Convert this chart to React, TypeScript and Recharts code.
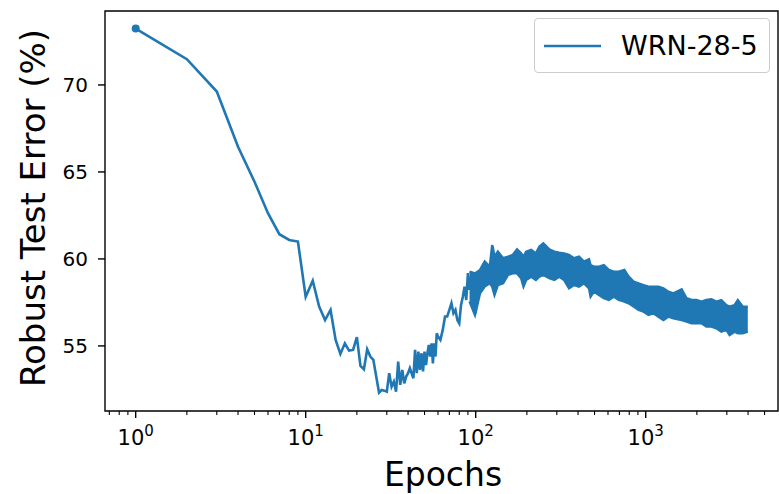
import React from 'react'
import { ComposedChart, Line, Area, XAxis, YAxis, ReferenceArea, Legend } from 'recharts'

const BLUE = '#1f77b4'
const FONT = '"DejaVu Sans", sans-serif'

// early epochs, one value per epoch
const epochs = [
  1, 2, 3, 4, 5, 6, 7, 8, 9, 10, 11, 12, 13, 14, 15, 16, 17, 18, 19, 20,
  21, 22, 23, 24, 25, 26, 27, 28, 29, 30, 31, 32, 33, 34, 35, 36, 37, 38, 39, 40,
  41, 42, 43, 44, 45, 46, 47, 48, 49, 50, 51, 52, 53, 54, 55, 56, 57, 58, 59, 60,
  62, 64, 66, 68, 70, 72, 74, 76, 78, 80, 82, 84, 86, 88, 90, 92, 94, 96, 98, 100,
  103, 106, 110, 113, 116, 120, 123, 126, 130,
]
const robustErr = [
  73.24, 71.48, 69.62, 66.45, 64.44, 62.63, 61.42, 61.09, 61.0, 57.83, 58.75, 57.26, 56.49, 57.07, 55.34, 54.54, 55.15, 54.73, 54.77, 55.5,
  53.85, 53.66, 54.81, 54.39, 54.2, 53.24, 52.32, 52.47, 52.43, 52.37, 53.43, 52.66, 52.95, 52.37, 54.1, 52.76, 53.62, 52.85, 53.24, 53.43,
  53.72, 53.43, 53.14, 54.77, 53.43, 54.67, 53.62, 54.58, 53.53, 54.67, 53.9, 54.58, 55.06, 54.39, 55.15, 54.0, 55.15, 54.39, 55.73, 55.54,
  55.35, 55.92, 56.69, 56.69, 57.07, 57.45, 56.88, 57.07, 56.49, 56.3, 57.36, 57.83, 58.41, 57.64, 59.18, 58.22, 58.99, 57.83, 59.18, 56.88,
  59.18, 58.6, 59.56, 58.6, 59.75, 58.79, 59.37, 60.71, 58.22,
]

// later epochs: the noisy curve fills a band, kept as its upper and lower edge
const bandEpochs = [
  92, 99, 106, 113, 121, 125, 129, 135, 145, 155, 165, 175, 185, 191, 198, 212, 226, 237, 250, 271,
  290, 310, 331, 354, 379, 405, 434, 464, 474, 496, 531, 567, 607, 649, 694, 749, 794, 849, 908, 971,
  1039, 1111, 1188, 1271, 1359, 1454, 1627, 1740, 1860, 1989, 2128, 2276, 2434, 2603, 2784, 2978, 3114, 3331, 3483, 3725,
  3985,
]
const bandHigh = [
  59.27, 59.17, 59.37, 59.85, 59.56, 60.8, 60.13, 60.42, 60.04, 60.13, 60.23, 60.55, 60.32, 60.13, 60.42, 60.52, 60.32, 60.71, 60.9, 60.55,
  60.42, 60.36, 60.32, 60.23, 60.04, 60.13, 59.85, 59.98, 59.65, 59.56, 59.56, 59.65, 59.37, 59.27, 59.27, 59.37, 58.98, 58.7, 58.6, 58.5,
  58.41, 58.41, 58.41, 58.31, 58.12, 58.02, 58.25, 57.74, 57.64, 57.64, 57.55, 57.64, 57.68, 57.55, 57.64, 57.35, 57.26, 57.35, 57.64, 57.26,
  57.26,
]
const bandLow = [
  57.55, 56.78, 58.02, 58.41, 58.6, 58.41, 57.93, 58.5, 58.6, 59.08, 59.17, 59.17, 58.89, 58.41, 58.79, 58.98, 58.79, 58.98, 59.08, 58.89,
  58.79, 58.98, 58.79, 58.31, 58.5, 58.41, 58.6, 58.31, 57.83, 58.12, 57.93, 57.74, 57.64, 57.83, 57.64, 57.55, 57.45, 57.26, 57.07, 56.97,
  56.78, 56.88, 56.68, 56.49, 56.68, 56.59, 56.49, 56.4, 56.3, 56.3, 56.3, 56.11, 56.11, 56.01, 55.82, 55.92, 55.63, 55.82, 55.73, 55.73,
  55.82,
]

const xMajor = [1, 10, 100, 1000]
const xMinor = [0.7, 0.8, 0.9, 2, 3, 4, 5, 6, 7, 8, 9, 20, 30, 40, 50, 60, 70, 80, 90,
  200, 300, 400, 500, 600, 700, 800, 900, 2000, 3000, 4000, 5000]
const yTicks = [55, 60, 65, 70]
const xDomain = [0.66, 6000]
const yDomain = [51.26, 74.25]

const lineData = epochs.map((e, i) => ({ epoch: e, err: robustErr[i] }))
const bandData = bandEpochs.map((e, i) => ({ epoch: e, range: [bandLow[i], bandHigh[i]] }))

const XTick = ({ x, y, payload }: any) => {
  const v = payload.value
  if (!xMajor.includes(v)) {
    return <line x1={x} x2={x} y1={y} y2={y + 4} stroke="#000" strokeWidth={1.1} />
  }
  const exp = Math.round(Math.log10(v))
  return (
    <g>
      <line x1={x} x2={x} y1={y} y2={y + 7} stroke="#000" strokeWidth={1.4} />
      <text x={x} y={y + 34} textAnchor="middle" fontFamily={FONT} fontSize={21} fill="#000">
        10<tspan dy={-9} fontSize={15}>{exp}</tspan>
      </text>
    </g>
  )
}

const YTick = ({ x, y, payload }: any) => (
  <g>
    <line x1={x - 7} x2={x} y1={y} y2={y} stroke="#000" strokeWidth={1.4} />
    <text x={x - 17} y={y} dy="0.36em" textAnchor="end" fontFamily={FONT} fontSize={20} fill="#000">
      {payload.value}
    </text>
  </g>
)

const renderLegend = () => (
  <div style={{
    position: 'absolute', left: 534, top: 18, width: 236, height: 55, boxSizing: 'border-box',
    border: '1.3px solid #cccccc', borderRadius: 4, background: 'rgba(255,255,255,0.8)',
  }}>
    <svg width={236} height={55} style={{ position: 'absolute', left: -1, top: -1 }}>
      <line x1={10} x2={67} y1={28} y2={28} stroke={BLUE} strokeWidth={2.6} />
      <text x={87} y={37} fontFamily={FONT} fontSize={27} fill="#000">WRN-28-5</text>
    </svg>
  </div>
)

export default function App() {
  return (
    <div style={{ position: 'absolute', left: 0, top: 0, width: 779, height: 494, background: '#fff' }}>
      <ComposedChart width={779} height={494} margin={{ top: 11, right: 1, left: 0, bottom: 0 }}>
        <XAxis
          dataKey="epoch"
          type="number"
          scale="log"
          domain={xDomain}
          allowDataOverflow
          ticks={[...xMinor, ...xMajor]}
          interval={0}
          tick={<XTick />}
          tickLine={false}
          axisLine={false}
          tickSize={0}
          tickMargin={0}
          height={83}
          label={() => (
            <text key="xlab" x={443} y={486} textAnchor="middle" fontFamily={FONT} fontSize={33} fill="#000">
              Epochs
            </text>
          )}
        />
        <YAxis
          type="number"
          domain={yDomain}
          allowDataOverflow
          ticks={yTicks}
          interval={0}
          tick={<YTick />}
          tickLine={false}
          axisLine={false}
          tickSize={0}
          tickMargin={0}
          width={105}
          label={() => (
            <text key="ylab" transform="translate(45,208) rotate(-90)" textAnchor="middle" fontFamily={FONT} fontSize={34} fill="#000">
              Robust Test Error (%)
            </text>
          )}
        />
        <Area
          data={bandData}
          dataKey="range"
          type="linear"
          stroke={BLUE}
          strokeWidth={2.4}
          fill={BLUE}
          fillOpacity={1}
          isAnimationActive={false}
          dot={false}
          activeDot={false}
        />
        <Line
          data={lineData}
          dataKey="err"
          type="linear"
          stroke={BLUE}
          strokeWidth={2.6}
          isAnimationActive={false}
          activeDot={false}
          dot={(p: any) =>
            p.index === 0
              ? <circle key="d0" cx={p.cx} cy={p.cy} r={4} fill={BLUE} />
              : <g key={'d' + p.index} />
          }
        />
        <ReferenceArea
          x1={xDomain[0]}
          x2={xDomain[1]}
          y1={yDomain[0]}
          y2={yDomain[1]}
          fill="none"
          fillOpacity={0}
          stroke="#000"
          strokeWidth={1.4}
          ifOverflow="visible"
        />
        <Legend content={renderLegend} wrapperStyle={{ left: 0, top: 0, width: 0, height: 0 }} />
      </ComposedChart>
    </div>
  )
}
